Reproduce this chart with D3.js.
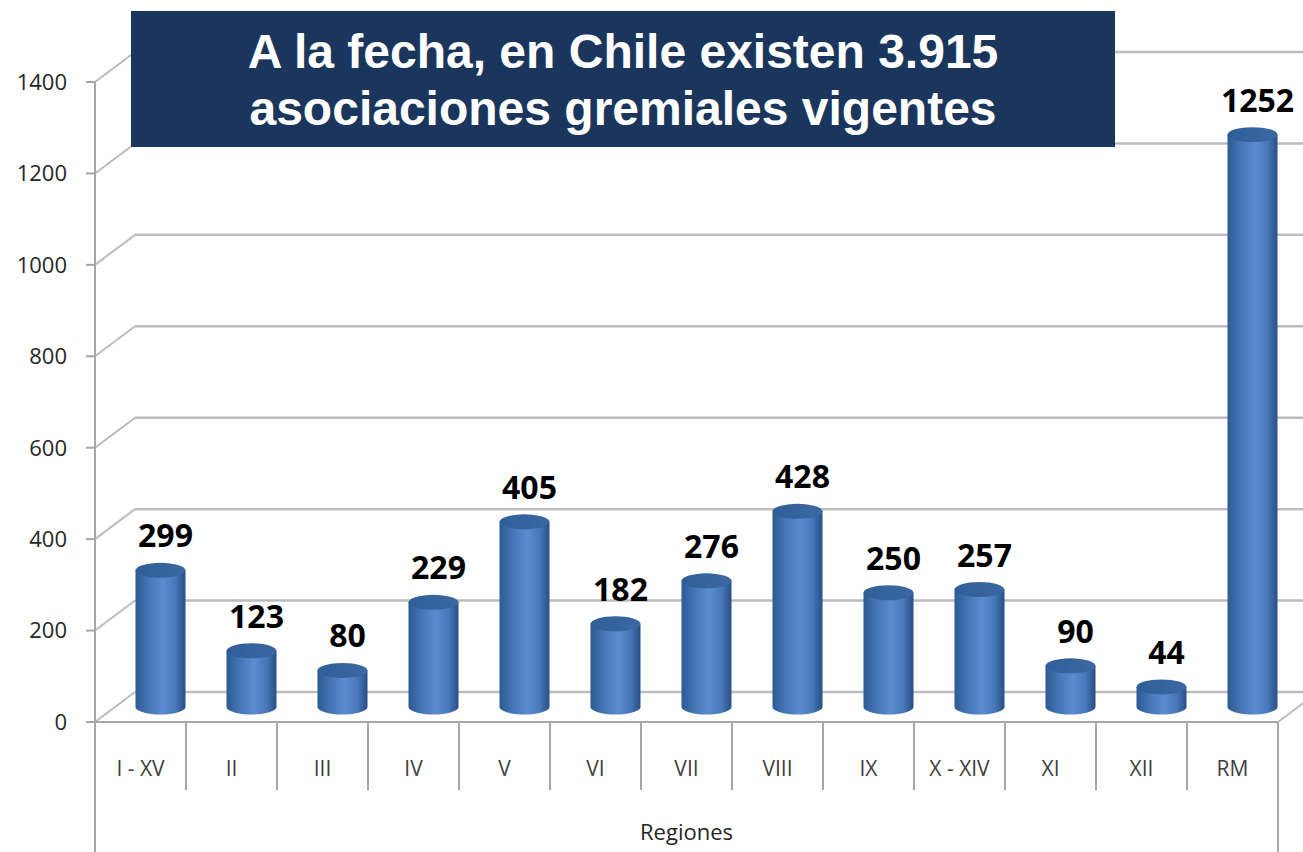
<!DOCTYPE html>
<html>
<head>
<meta charset="utf-8">
<script src="https://cdn.jsdelivr.net/npm/d3@7"></script>
<style>
  body { margin: 0; background: #fff; }
  svg { display: block; }
</style>
</head>
<body>
<svg id="chart" width="1303" height="852"></svg>
<script>
// data
var regions = ["I - XV", "II", "III", "IV", "V", "VI", "VII", "VIII", "IX", "X - XIV", "XI", "XII", "RM"];
var counts = [299, 123, 80, 229, 405, 182, 276, 428, 250, 257, 90, 44, 1252];
var yTicks = [0, 200, 400, 600, 800, 1000, 1200, 1400];
var titleLines = ["A la fecha, en Chile existen 3.915", "asociaciones gremiales vigentes"];
var axisTitle = "Regiones";

//layout
var svgWidth = 1303, svgHeight = 852;
var plot = { left: 95, right: 1278, top: 82, bottom: 722 };
var depth = { dx: 40, dy: -30 }; // back wall offset
var cylR = 25, cylRy = 7.5;

var svg = d3.select('#chart');

var xScale = d3.scaleBand()
    .domain(regions)
    .range([plot.left, plot.right]);

var yScale = d3.scaleLinear()
    .domain([0, 1400])
    .range([plot.bottom, plot.top]);

var gridColor = '#bcbcbc';
var axisColor = '#a6a6a6';

// cylinder gradient
var defs = svg.append('defs');
var grad = defs.append('linearGradient')
    .attr('id', 'cylBody')
    .attr('x1', '0%').attr('x2', '100%').attr('y1', '0%').attr('y2', '0%');
grad.append('stop').attr('offset', '0%').attr('stop-color', '#2c5a93');
grad.append('stop').attr('offset', '25%').attr('stop-color', '#4574b4');
grad.append('stop').attr('offset', '55%').attr('stop-color', '#5a8ccf');
grad.append('stop').attr('offset', '80%').attr('stop-color', '#4778ba');
grad.append('stop').attr('offset', '100%').attr('stop-color', '#274f83');

var topGrad = defs.append('linearGradient')
    .attr('id', 'cylTop')
    .attr('x1', '0%').attr('x2', '100%').attr('y1', '0%').attr('y2', '0%');
topGrad.append('stop').attr('offset', '0%').attr('stop-color', '#305e98');
topGrad.append('stop').attr('offset', '100%').attr('stop-color', '#3b68a3');

/////////////////////////////////////////////////////////////////////
//                     WALLS + GRIDLINES                           //
/////////////////////////////////////////////////////////////////////
var grid = svg.append('g');

// diagonal on the side wall and horizontal on back wall
grid.selectAll('.diag')
    .data(yTicks)
    .enter()
    .append('line')
    .attr('x1', plot.left)
    .attr('y1', d => yScale(d))
    .attr('x2', plot.left + depth.dx)
    .attr('y2', d => yScale(d) + depth.dy)
    .style('stroke', gridColor)
    .style('stroke-width', 2);

grid.selectAll('.back')
    .data(yTicks)
    .enter()
    .append('line')
    .attr('x1', plot.left + depth.dx)
    .attr('y1', d => yScale(d) + depth.dy)
    .attr('x2', plot.right + depth.dx)
    .attr('y2', d => yScale(d) + depth.dy)
    .style('stroke', gridColor)
    .style('stroke-width', 2.5);

// floor front + right edge
grid.append('line')
    .attr('x1', plot.left).attr('y1', plot.bottom)
    .attr('x2', plot.right).attr('y2', plot.bottom)
    .style('stroke', axisColor).style('stroke-width', 2);
grid.append('line')
    .attr('x1', plot.right).attr('y1', plot.bottom)
    .attr('x2', plot.right + depth.dx).attr('y2', plot.bottom + depth.dy)
    .style('stroke', gridColor).style('stroke-width', 2);

// y axis line and ticks
grid.append('line')
    .attr('x1', plot.left).attr('y1', yScale(1400))
    .attr('x2', plot.left).attr('y2', svgHeight)
    .style('stroke', axisColor).style('stroke-width', 2);
grid.selectAll('.ytick')
    .data(yTicks)
    .enter()
    .append('line')
    .attr('x1', plot.left - 9).attr('x2', plot.left)
    .attr('y1', d => yScale(d)).attr('y2', d => yScale(d))
    .style('stroke', axisColor).style('stroke-width', 2);

svg.selectAll('.ylabel')
    .data(yTicks)
    .enter()
    .append('text')
    .attr('x', 67)
    .attr('y', d => yScale(d))
    .attr('dy', '0.36em')
    .attr('text-anchor', 'end')
    .style('font-family', 'Open Sans')
    .style('font-size', '22px')
    .style('fill', '#262626')
    .text(d => d);

// category separators below floor
var seps = regions.map(r => xScale(r)).concat([plot.right]);
svg.selectAll('.sep')
    .data(seps)
    .enter()
    .append('line')
    .attr('x1', d => d).attr('x2', d => d)
    .attr('y1', plot.bottom)
    .attr('y2', (d, i) => (i == 0 || i == seps.length - 1) ? svgHeight : 790)
    .style('stroke', axisColor).style('stroke-width', 2);

svg.selectAll('.xlabel')
    .data(regions)
    .enter()
    .append('text')
    .attr('x', d => xScale(d) + xScale.bandwidth() / 2)
    .attr('y', 768)
    .attr('dy', '0.36em')
    .attr('text-anchor', 'middle')
    .style('font-family', 'Open Sans')
    .style('font-size', '21px')
    .style('fill', '#404040')
    .text(d => d);

svg.append('text')
    .attr('x', (plot.left + plot.right) / 2)
    .attr('y', 832)
    .attr('dy', '0.36em')
    .attr('text-anchor', 'middle')
    .style('font-family', 'Open Sans')
    .style('font-size', '22px')
    .style('fill', '#262626')
    .text(axisTitle);

/////////////////////////////////////////////////////////////////////
//                        CYLINDERS                                //
/////////////////////////////////////////////////////////////////////
var baseY = plot.bottom + depth.dy / 2;
var midDx = depth.dx / 2;

var bars = svg.selectAll('.cyl')
    .data(regions.map((r, i) => ({ region: r, value: counts[i] })))
    .enter()
    .append('g');

function cx(d) { return xScale(d.region) + xScale.bandwidth() / 2 + midDx; }
function topY(d) { return baseY - (plot.bottom - yScale(d.value)); }

bars.append('path')
    .attr('d', d => {
        var x0 = cx(d) - cylR, x1 = cx(d) + cylR, t = topY(d);
        return 'M' + x0 + ',' + t + ' L' + x0 + ',' + baseY +
            ' A' + cylR + ',' + cylRy + ' 0 0 0 ' + x1 + ',' + baseY +
            ' L' + x1 + ',' + t + ' Z';
    })
    .style('fill', 'url(#cylBody)');

bars.append('ellipse')
    .attr('cx', cx)
    .attr('cy', topY)
    .attr('rx', cylR)
    .attr('ry', cylRy)
    .style('fill', 'url(#cylTop)');

bars.append('text')
    .attr('x', d => cx(d) + 5)
    .attr('y', d => topY(d) - 23)
    .attr('text-anchor', 'middle')
    .style('font-family', 'Open Sans')
    .style('font-weight', '700')
    .style('font-size', '32px')
    .style('fill', '#000')
    .text(d => d.value);

/////////////////////////////////////////////////////////////////////
//                        TITLE BOX                                //
/////////////////////////////////////////////////////////////////////
svg.append('rect')
    .attr('x', 131).attr('y', 11)
    .attr('width', 984).attr('height', 136)
    .style('fill', '#1b365d');

svg.selectAll('.title')
    .data(titleLines)
    .enter()
    .append('text')
    .attr('x', 623)
    .attr('y', (d, i) => 68 + i * 57)
    .attr('text-anchor', 'middle')
    .style('font-family', 'Liberation Sans, Arial, sans-serif')
    .style('font-weight', '700')
    .style('font-size', '48px')
    .style('fill', '#fff')
    .text(d => d);
</script>
</body>
</html>
